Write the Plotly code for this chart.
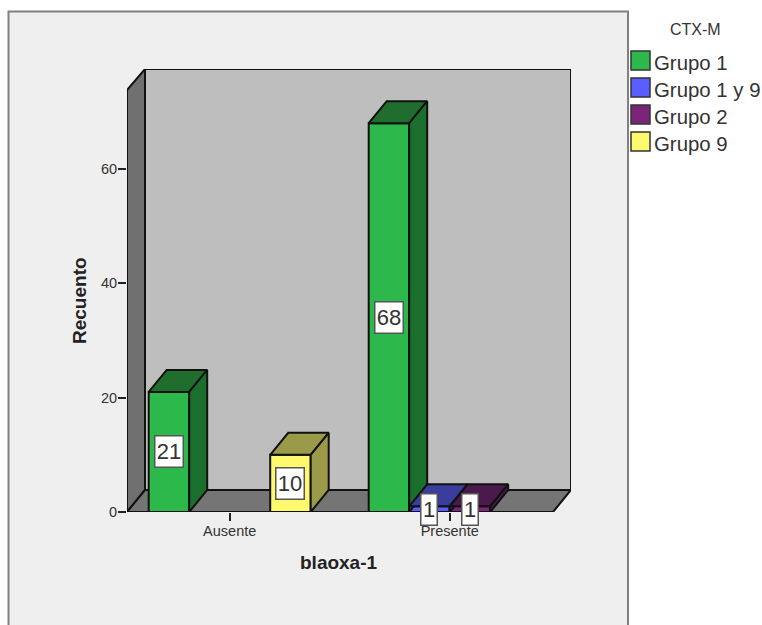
import plotly.graph_objects as go

# Counts per blaoxa-1 category for each CTX-M group
categories = ["Ausente", "Presente"]
group_names = ["Grupo 1", "Grupo 1 y 9", "Grupo 2", "Grupo 9"]
grupo_1 = [21, 68]
grupo_1_y_9 = [None, 1]
grupo_2 = [None, 1]
grupo_9 = [10, None]
y_ticks = [0, 20, 40, 60]

series = [grupo_1, grupo_1_y_9, grupo_2, grupo_9]
front_colors = ["#2DB84B", "#5A5DFF", "#7B2479", "#FFF96E"]
side_colors = ["#1B6F2D", "#3A3D9C", "#4A1A4C", "#9B9A48"]
top_colors = ["#1F6E2E", "#3A3D9C", "#4A1A4C", "#9B9A48"]

# Pixel geometry of the plotting box
W, H = 762, 625
L, R, T, B = 127, 571, 69, 512
PX_PER_CAT = 220.0
PX_PER_COUNT = 5.717
CAT0_PX = 229.7

x_min = (L - CAT0_PX) / PX_PER_CAT
x_max = (R - CAT0_PX) / PX_PER_CAT
y_max = (B - T) / PX_PER_COUNT
depth_x = 18 / PX_PER_CAT
depth_y = 22 / PX_PER_COUNT
bar_w = 40.5 / PX_PER_CAT
x_front_right = (553 - CAT0_PX) / PX_PER_CAT
y_front_top = (B - 90) / PX_PER_COUNT


def poly(points):
    return "M" + " L".join(f"{x},{y}" for x, y in points) + " Z"


def px_x(p):
    return (p - L) / (R - L)


def px_y(p):
    return (B - p) / (B - T)


fig = go.Figure()

# Front faces
for s, (name, vals) in enumerate(zip(group_names, series)):
    fig.add_bar(
        x=list(range(len(categories))),
        y=vals,
        name=name,
        width=bar_w,
        offset=(s - 2) * bar_w,
        marker=dict(color=front_colors[s], line=dict(color="#111111", width=2)),
        showlegend=False,
        hoverinfo="skip",
    )

# Top and side faces, left to right so nearer faces overlap correctly
for c in range(len(categories)):
    for s, vals in enumerate(series):
        v = vals[c]
        if v is None:
            continue
        x0 = c + (s - 2) * bar_w
        x1 = x0 + bar_w
        faces = [
            ([x0, x1, x1 + depth_x, x0 + depth_x, x0],
             [v, v, v + depth_y, v + depth_y, v], top_colors[s]),
            ([x1, x1 + depth_x, x1 + depth_x, x1, x1],
             [0, depth_y, v + depth_y, v, 0], side_colors[s]),
        ]
        for fx, fy, col in faces:
            fig.add_scatter(
                x=fx, y=fy, mode="lines", fill="toself", fillcolor=col,
                line=dict(color="#111111", width=2),
                showlegend=False, hoverinfo="skip",
            )

# Chart frame, walls and floor
shapes = [
    dict(type="rect", xref="paper", yref="paper", layer="below",
         x0=px_x(8.5), x1=px_x(628), y0=px_y(640), y1=px_y(11.5),
         fillcolor="#EFEFEF", line=dict(color="#808080", width=2)),
    dict(type="path", layer="below", xref="x", yref="y",
         path=poly([(x_min + depth_x, depth_y), (x_max, depth_y), (x_max, y_max),
                    (x_min + depth_x, y_max)]),
         fillcolor="#BEBEBE", line=dict(color="#111111", width=2)),
    dict(type="path", layer="below", xref="x", yref="y",
         path=poly([(x_min, 0), (x_min, y_front_top), (x_min + depth_x, y_max),
                    (x_min + depth_x, depth_y)]),
         fillcolor="#707070", line=dict(color="#111111", width=2)),
    dict(type="path", layer="below", xref="x", yref="y",
         path=poly([(x_min, 0), (x_front_right, 0), (x_max, depth_y),
                    (x_min + depth_x, depth_y)]),
         fillcolor="#757575", line=dict(color="#111111", width=2)),
    # Front edge of the floor, drawn over the bar bases
    dict(type="line", layer="above", xref="x", yref="y",
         x0=x_min, x1=x_front_right, y0=0, y1=0,
         line=dict(color="#111111", width=2)),
]

annotations = []

# Value labels centred on each bar's front face
for c in range(len(categories)):
    for s, vals in enumerate(series):
        v = vals[c]
        if v is None:
            continue
        annotations.append(dict(
            x=c + (s - 1.5) * bar_w, y=v / 2, xref="x", yref="y",
            text=str(v), showarrow=False,
            font=dict(family="Liberation Sans", size=22, color="#333333"),
            bgcolor="#FFFFFF", bordercolor="#555555", borderwidth=1.5, borderpad=0,
            width=27 if v >= 10 else 15, height=30,
        ))

# Axis titles
annotations.append(dict(
    x=px_x(339), y=px_y(562), xref="paper", yref="paper", text="<b>blaoxa-1</b>",
    xanchor="center", yanchor="middle", showarrow=False,
    font=dict(family="Liberation Sans", size=19, color="#222222"),
))
annotations.append(dict(
    x=px_x(79), y=px_y(301), xref="paper", yref="paper", text="<b>Recuento</b>",
    textangle=-90, xanchor="center", yanchor="middle", showarrow=False,
    font=dict(family="Liberation Sans", size=19, color="#222222"),
))

# Legend
annotations.append(dict(
    x=px_x(695), y=px_y(30), xref="paper", yref="paper", text="CTX-M",
    xanchor="center", yanchor="middle", showarrow=False,
    font=dict(family="Liberation Sans", size=16, color="#333333"),
))
for i, name in enumerate(group_names):
    top = 51 + 27 * i
    shapes.append(dict(
        type="rect", xref="paper", yref="paper", layer="above",
        x0=px_x(631), x1=px_x(650), y0=px_y(top + 19), y1=px_y(top),
        fillcolor=front_colors[i], line=dict(color="#333333", width=1.5),
    ))
    annotations.append(dict(
        x=px_x(653), y=px_y(top + 12), xref="paper", yref="paper", text=name,
        xanchor="left", yanchor="middle", showarrow=False, xshift=-1,
        font=dict(family="Liberation Sans", size=20.4, color="#333333"),
    ))

fig.update_layout(
    width=W, height=H,
    autosize=False,
    margin=dict(l=L, r=W - R, t=T, b=H - B, autoexpand=False),
    paper_bgcolor="#FFFFFF",
    plot_bgcolor="rgba(0,0,0,0)",
    barmode="overlay",
    showlegend=False,
    shapes=shapes,
    annotations=annotations,
    font=dict(family="Liberation Sans", color="#333333"),
    xaxis=dict(
        range=[x_min, x_max], tickvals=list(range(len(categories))), ticktext=categories,
        ticks="outside", ticklen=8, tickwidth=1.5, tickcolor="#222222",
        ticklabelstandoff=-2,
        showgrid=False, zeroline=False, showline=False,
        tickfont=dict(size=14.5, color="#333333"),
    ),
    yaxis=dict(
        range=[0, y_max], tickvals=y_ticks,
        ticks="outside", ticklen=8, tickwidth=1.5, tickcolor="#222222",
        ticklabelstandoff=-2,
        showgrid=False, zeroline=False, showline=False,
        tickfont=dict(size=14.5, color="#333333"),
    ),
)

fig.write_html("out.html", config=dict(displayModeBar=False))
